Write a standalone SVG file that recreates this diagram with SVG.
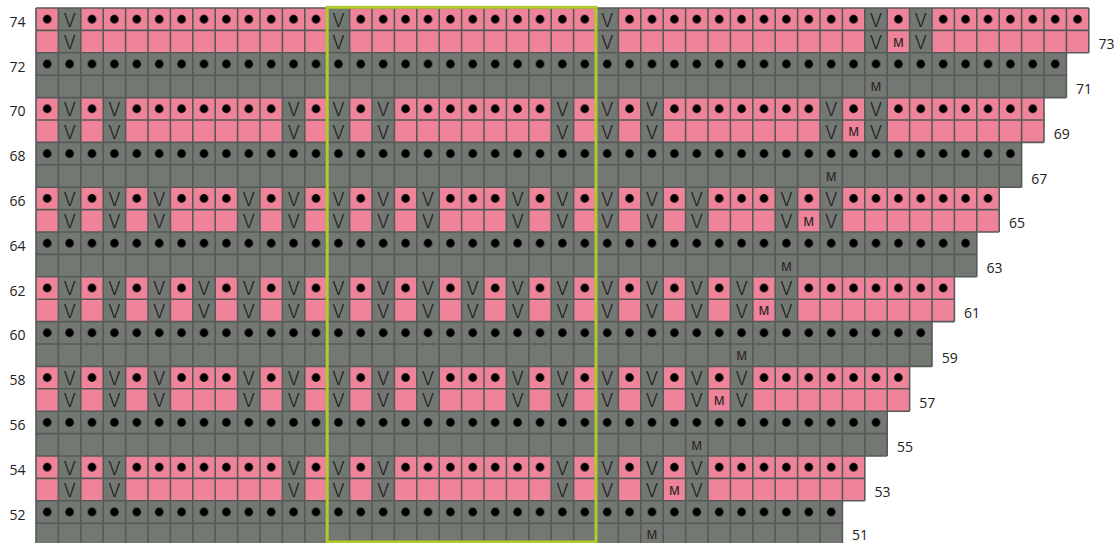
<svg xmlns="http://www.w3.org/2000/svg" width="1114" height="543" viewBox="0 0 1114 543">
<style>
.pk{fill:#ef8399}
.gy{fill:#747873}
.v{font-family:Inter,"Liberation Sans",sans-serif;font-weight:300;font-size:18.4px;text-anchor:middle;fill:#1e1e1e}
.m{font-family:"Open Sans","Liberation Sans",sans-serif;font-weight:600;font-size:11.8px;text-anchor:middle;fill:#302a2c}
.lbl{font-family:"Open Sans","Liberation Sans",sans-serif;font-size:14px;fill:#222}
.l{text-anchor:end}
.grid{fill:none;stroke:#575a58;stroke-width:1.6}
</style>
<defs>
<pattern id="dots" patternUnits="userSpaceOnUse" x="36" y="0" width="22.4" height="22.4"><circle cx="11.2" cy="11.2" r="4.3" fill="#000"/></pattern>
</defs>

<g id="rows-74-73" transform="translate(0,8)">
<rect class="pk" x="36" y="0" width="1052.8" height="44.8"/>
<rect fill="url(#dots)" x="36" y="0" width="1052.8" height="22.4"/>
<rect class="gy" x="58.4" y="0" width="22.4" height="44.8"/><rect class="gy" x="327.2" y="0" width="22.4" height="44.8"/><rect class="gy" x="596" y="0" width="22.4" height="44.8"/><rect class="gy" x="864.8" y="0" width="22.4" height="44.8"/><rect class="gy" x="909.6" y="0" width="22.4" height="44.8"/>
<text class="v" x="69.6" y="18.7">V</text><text class="v" x="338.4" y="18.7">V</text><text class="v" x="607.2" y="18.7">V</text><text class="v" x="876" y="18.7">V</text><text class="v" x="920.8" y="18.7">V</text>
<text class="v" x="69.6" y="41.1">V</text><text class="v" x="338.4" y="41.1">V</text><text class="v" x="607.2" y="41.1">V</text><text class="v" x="876" y="41.1">V</text><text class="v" x="920.8" y="41.1">V</text>
<text class="m" x="898.4" y="38.7">M</text>
</g>

<g id="rows-72-71" transform="translate(0,52.8)">
<rect class="gy" x="36" y="0" width="1030.4" height="44.8"/>
<rect fill="url(#dots)" x="36" y="0" width="1030.4" height="22.4"/>
<text class="m" x="876" y="38.7">M</text>
</g>

<g id="rows-70-69" transform="translate(0,97.6)">
<rect class="pk" x="36" y="0" width="1008" height="44.8"/>
<rect fill="url(#dots)" x="36" y="0" width="1008" height="22.4"/>
<rect class="gy" x="58.4" y="0" width="22.4" height="44.8"/><rect class="gy" x="103.2" y="0" width="22.4" height="44.8"/><rect class="gy" x="282.4" y="0" width="22.4" height="44.8"/><rect class="gy" x="327.2" y="0" width="22.4" height="44.8"/><rect class="gy" x="372" y="0" width="22.4" height="44.8"/><rect class="gy" x="551.2" y="0" width="22.4" height="44.8"/><rect class="gy" x="596" y="0" width="22.4" height="44.8"/><rect class="gy" x="640.8" y="0" width="22.4" height="44.8"/><rect class="gy" x="820" y="0" width="22.4" height="44.8"/><rect class="gy" x="864.8" y="0" width="22.4" height="44.8"/>
<text class="v" x="69.6" y="18.7">V</text><text class="v" x="114.4" y="18.7">V</text><text class="v" x="293.6" y="18.7">V</text><text class="v" x="338.4" y="18.7">V</text><text class="v" x="383.2" y="18.7">V</text><text class="v" x="562.4" y="18.7">V</text><text class="v" x="607.2" y="18.7">V</text><text class="v" x="652" y="18.7">V</text><text class="v" x="831.2" y="18.7">V</text><text class="v" x="876" y="18.7">V</text>
<text class="v" x="69.6" y="41.1">V</text><text class="v" x="114.4" y="41.1">V</text><text class="v" x="293.6" y="41.1">V</text><text class="v" x="338.4" y="41.1">V</text><text class="v" x="383.2" y="41.1">V</text><text class="v" x="562.4" y="41.1">V</text><text class="v" x="607.2" y="41.1">V</text><text class="v" x="652" y="41.1">V</text><text class="v" x="831.2" y="41.1">V</text><text class="v" x="876" y="41.1">V</text>
<text class="m" x="853.6" y="38.7">M</text>
</g>

<g id="rows-68-67" transform="translate(0,142.4)">
<rect class="gy" x="36" y="0" width="985.6" height="44.8"/>
<rect fill="url(#dots)" x="36" y="0" width="985.6" height="22.4"/>
<text class="m" x="831.2" y="38.7">M</text>
</g>

<g id="rows-66-65" transform="translate(0,187.2)">
<rect class="pk" x="36" y="0" width="963.2" height="44.8"/>
<rect fill="url(#dots)" x="36" y="0" width="963.2" height="22.4"/>
<rect class="gy" x="58.4" y="0" width="22.4" height="44.8"/><rect class="gy" x="103.2" y="0" width="22.4" height="44.8"/><rect class="gy" x="148" y="0" width="22.4" height="44.8"/><rect class="gy" x="237.6" y="0" width="22.4" height="44.8"/><rect class="gy" x="282.4" y="0" width="22.4" height="44.8"/><rect class="gy" x="327.2" y="0" width="22.4" height="44.8"/><rect class="gy" x="372" y="0" width="22.4" height="44.8"/><rect class="gy" x="416.8" y="0" width="22.4" height="44.8"/><rect class="gy" x="506.4" y="0" width="22.4" height="44.8"/><rect class="gy" x="551.2" y="0" width="22.4" height="44.8"/><rect class="gy" x="596" y="0" width="22.4" height="44.8"/><rect class="gy" x="640.8" y="0" width="22.4" height="44.8"/><rect class="gy" x="685.6" y="0" width="22.4" height="44.8"/><rect class="gy" x="775.2" y="0" width="22.4" height="44.8"/><rect class="gy" x="820" y="0" width="22.4" height="44.8"/>
<text class="v" x="69.6" y="18.7">V</text><text class="v" x="114.4" y="18.7">V</text><text class="v" x="159.2" y="18.7">V</text><text class="v" x="248.8" y="18.7">V</text><text class="v" x="293.6" y="18.7">V</text><text class="v" x="338.4" y="18.7">V</text><text class="v" x="383.2" y="18.7">V</text><text class="v" x="428" y="18.7">V</text><text class="v" x="517.6" y="18.7">V</text><text class="v" x="562.4" y="18.7">V</text><text class="v" x="607.2" y="18.7">V</text><text class="v" x="652" y="18.7">V</text><text class="v" x="696.8" y="18.7">V</text><text class="v" x="786.4" y="18.7">V</text><text class="v" x="831.2" y="18.7">V</text>
<text class="v" x="69.6" y="41.1">V</text><text class="v" x="114.4" y="41.1">V</text><text class="v" x="159.2" y="41.1">V</text><text class="v" x="248.8" y="41.1">V</text><text class="v" x="293.6" y="41.1">V</text><text class="v" x="338.4" y="41.1">V</text><text class="v" x="383.2" y="41.1">V</text><text class="v" x="428" y="41.1">V</text><text class="v" x="517.6" y="41.1">V</text><text class="v" x="562.4" y="41.1">V</text><text class="v" x="607.2" y="41.1">V</text><text class="v" x="652" y="41.1">V</text><text class="v" x="696.8" y="41.1">V</text><text class="v" x="786.4" y="41.1">V</text><text class="v" x="831.2" y="41.1">V</text>
<text class="m" x="808.8" y="38.7">M</text>
</g>

<g id="rows-64-63" transform="translate(0,232)">
<rect class="gy" x="36" y="0" width="940.8" height="44.8"/>
<rect fill="url(#dots)" x="36" y="0" width="940.8" height="22.4"/>
<text class="m" x="786.4" y="38.7">M</text>
</g>

<g id="rows-62-61" transform="translate(0,276.8)">
<rect class="pk" x="36" y="0" width="918.4" height="44.8"/>
<rect fill="url(#dots)" x="36" y="0" width="918.4" height="22.4"/>
<rect class="gy" x="58.4" y="0" width="22.4" height="44.8"/><rect class="gy" x="103.2" y="0" width="22.4" height="44.8"/><rect class="gy" x="148" y="0" width="22.4" height="44.8"/><rect class="gy" x="192.8" y="0" width="22.4" height="44.8"/><rect class="gy" x="237.6" y="0" width="22.4" height="44.8"/><rect class="gy" x="282.4" y="0" width="22.4" height="44.8"/><rect class="gy" x="327.2" y="0" width="22.4" height="44.8"/><rect class="gy" x="372" y="0" width="22.4" height="44.8"/><rect class="gy" x="416.8" y="0" width="22.4" height="44.8"/><rect class="gy" x="461.6" y="0" width="22.4" height="44.8"/><rect class="gy" x="506.4" y="0" width="22.4" height="44.8"/><rect class="gy" x="551.2" y="0" width="22.4" height="44.8"/><rect class="gy" x="596" y="0" width="22.4" height="44.8"/><rect class="gy" x="640.8" y="0" width="22.4" height="44.8"/><rect class="gy" x="685.6" y="0" width="22.4" height="44.8"/><rect class="gy" x="730.4" y="0" width="22.4" height="44.8"/><rect class="gy" x="775.2" y="0" width="22.4" height="44.8"/>
<text class="v" x="69.6" y="18.7">V</text><text class="v" x="114.4" y="18.7">V</text><text class="v" x="159.2" y="18.7">V</text><text class="v" x="204" y="18.7">V</text><text class="v" x="248.8" y="18.7">V</text><text class="v" x="293.6" y="18.7">V</text><text class="v" x="338.4" y="18.7">V</text><text class="v" x="383.2" y="18.7">V</text><text class="v" x="428" y="18.7">V</text><text class="v" x="472.8" y="18.7">V</text><text class="v" x="517.6" y="18.7">V</text><text class="v" x="562.4" y="18.7">V</text><text class="v" x="607.2" y="18.7">V</text><text class="v" x="652" y="18.7">V</text><text class="v" x="696.8" y="18.7">V</text><text class="v" x="741.6" y="18.7">V</text><text class="v" x="786.4" y="18.7">V</text>
<text class="v" x="69.6" y="41.1">V</text><text class="v" x="114.4" y="41.1">V</text><text class="v" x="159.2" y="41.1">V</text><text class="v" x="204" y="41.1">V</text><text class="v" x="248.8" y="41.1">V</text><text class="v" x="293.6" y="41.1">V</text><text class="v" x="338.4" y="41.1">V</text><text class="v" x="383.2" y="41.1">V</text><text class="v" x="428" y="41.1">V</text><text class="v" x="472.8" y="41.1">V</text><text class="v" x="517.6" y="41.1">V</text><text class="v" x="562.4" y="41.1">V</text><text class="v" x="607.2" y="41.1">V</text><text class="v" x="652" y="41.1">V</text><text class="v" x="696.8" y="41.1">V</text><text class="v" x="741.6" y="41.1">V</text><text class="v" x="786.4" y="41.1">V</text>
<text class="m" x="764" y="38.7">M</text>
</g>

<g id="rows-60-59" transform="translate(0,321.6)">
<rect class="gy" x="36" y="0" width="896" height="44.8"/>
<rect fill="url(#dots)" x="36" y="0" width="896" height="22.4"/>
<text class="m" x="741.6" y="38.7">M</text>
</g>

<g id="rows-58-57" transform="translate(0,366.4)">
<rect class="pk" x="36" y="0" width="873.6" height="44.8"/>
<rect fill="url(#dots)" x="36" y="0" width="873.6" height="22.4"/>
<rect class="gy" x="58.4" y="0" width="22.4" height="44.8"/><rect class="gy" x="103.2" y="0" width="22.4" height="44.8"/><rect class="gy" x="148" y="0" width="22.4" height="44.8"/><rect class="gy" x="237.6" y="0" width="22.4" height="44.8"/><rect class="gy" x="282.4" y="0" width="22.4" height="44.8"/><rect class="gy" x="327.2" y="0" width="22.4" height="44.8"/><rect class="gy" x="372" y="0" width="22.4" height="44.8"/><rect class="gy" x="416.8" y="0" width="22.4" height="44.8"/><rect class="gy" x="506.4" y="0" width="22.4" height="44.8"/><rect class="gy" x="551.2" y="0" width="22.4" height="44.8"/><rect class="gy" x="596" y="0" width="22.4" height="44.8"/><rect class="gy" x="640.8" y="0" width="22.4" height="44.8"/><rect class="gy" x="685.6" y="0" width="22.4" height="44.8"/><rect class="gy" x="730.4" y="0" width="22.4" height="44.8"/>
<text class="v" x="69.6" y="18.7">V</text><text class="v" x="114.4" y="18.7">V</text><text class="v" x="159.2" y="18.7">V</text><text class="v" x="248.8" y="18.7">V</text><text class="v" x="293.6" y="18.7">V</text><text class="v" x="338.4" y="18.7">V</text><text class="v" x="383.2" y="18.7">V</text><text class="v" x="428" y="18.7">V</text><text class="v" x="517.6" y="18.7">V</text><text class="v" x="562.4" y="18.7">V</text><text class="v" x="607.2" y="18.7">V</text><text class="v" x="652" y="18.7">V</text><text class="v" x="696.8" y="18.7">V</text><text class="v" x="741.6" y="18.7">V</text>
<text class="v" x="69.6" y="41.1">V</text><text class="v" x="114.4" y="41.1">V</text><text class="v" x="159.2" y="41.1">V</text><text class="v" x="248.8" y="41.1">V</text><text class="v" x="293.6" y="41.1">V</text><text class="v" x="338.4" y="41.1">V</text><text class="v" x="383.2" y="41.1">V</text><text class="v" x="428" y="41.1">V</text><text class="v" x="517.6" y="41.1">V</text><text class="v" x="562.4" y="41.1">V</text><text class="v" x="607.2" y="41.1">V</text><text class="v" x="652" y="41.1">V</text><text class="v" x="696.8" y="41.1">V</text><text class="v" x="741.6" y="41.1">V</text>
<text class="m" x="719.2" y="38.7">M</text>
</g>

<g id="rows-56-55" transform="translate(0,411.2)">
<rect class="gy" x="36" y="0" width="851.2" height="44.8"/>
<rect fill="url(#dots)" x="36" y="0" width="851.2" height="22.4"/>
<text class="m" x="696.8" y="38.7">M</text>
</g>

<g id="rows-54-53" transform="translate(0,456)">
<rect class="pk" x="36" y="0" width="828.8" height="44.8"/>
<rect fill="url(#dots)" x="36" y="0" width="828.8" height="22.4"/>
<rect class="gy" x="58.4" y="0" width="22.4" height="44.8"/><rect class="gy" x="103.2" y="0" width="22.4" height="44.8"/><rect class="gy" x="282.4" y="0" width="22.4" height="44.8"/><rect class="gy" x="327.2" y="0" width="22.4" height="44.8"/><rect class="gy" x="372" y="0" width="22.4" height="44.8"/><rect class="gy" x="551.2" y="0" width="22.4" height="44.8"/><rect class="gy" x="596" y="0" width="22.4" height="44.8"/><rect class="gy" x="640.8" y="0" width="22.4" height="44.8"/><rect class="gy" x="685.6" y="0" width="22.4" height="44.8"/>
<text class="v" x="69.6" y="18.7">V</text><text class="v" x="114.4" y="18.7">V</text><text class="v" x="293.6" y="18.7">V</text><text class="v" x="338.4" y="18.7">V</text><text class="v" x="383.2" y="18.7">V</text><text class="v" x="562.4" y="18.7">V</text><text class="v" x="607.2" y="18.7">V</text><text class="v" x="652" y="18.7">V</text><text class="v" x="696.8" y="18.7">V</text>
<text class="v" x="69.6" y="41.1">V</text><text class="v" x="114.4" y="41.1">V</text><text class="v" x="293.6" y="41.1">V</text><text class="v" x="338.4" y="41.1">V</text><text class="v" x="383.2" y="41.1">V</text><text class="v" x="562.4" y="41.1">V</text><text class="v" x="607.2" y="41.1">V</text><text class="v" x="652" y="41.1">V</text><text class="v" x="696.8" y="41.1">V</text>
<text class="m" x="674.4" y="38.7">M</text>
</g>

<g id="rows-52-51" transform="translate(0,500.8)">
<rect class="gy" x="36" y="0" width="806.4" height="44.8"/>
<rect fill="url(#dots)" x="36" y="0" width="806.4" height="22.4"/>
<text class="m" x="652" y="38.7">M</text>
</g>

<g id="gridlines">
<path class="grid" d="M36 8H1088.8M36 30.4H1088.8M36 52.8H1088.8M36 75.2H1066.4M36 97.6H1066.4M36 120H1044M36 142.4H1044M36 164.8H1021.6M36 187.2H1021.6M36 209.6H999.2M36 232H999.2M36 254.4H976.8M36 276.8H976.8M36 299.2H954.4M36 321.6H954.4M36 344H932M36 366.4H932M36 388.8H909.6M36 411.2H909.6M36 433.6H887.2M36 456H887.2M36 478.4H864.8M36 500.8H864.8M36 523.2H842.4
M36 8V546M58.4 8V546M80.8 8V546M103.2 8V546M125.6 8V546M148 8V546M170.4 8V546M192.8 8V546M215.2 8V546M237.6 8V546M260 8V546M282.4 8V546M304.8 8V546M327.2 8V546M349.6 8V546M372 8V546M394.4 8V546M416.8 8V546M439.2 8V546M461.6 8V546M484 8V546M506.4 8V546M528.8 8V546M551.2 8V546M573.6 8V546M596 8V546M618.4 8V546M640.8 8V546M663.2 8V546M685.6 8V546M708 8V546M730.4 8V546M752.8 8V546M775.2 8V546M797.6 8V546M820 8V546M842.4 8V546
M864.8 8V500.8M887.2 8V456M909.6 8V411.2M932 8V366.4M954.4 8V321.6M976.8 8V276.8M999.2 8V232M1021.6 8V187.2M1044 8V142.4M1066.4 8V97.6M1088.8 8V52.8"/>
</g>

<g id="repeat-box">
<rect x="327.2" y="7.3" width="268.8" height="534.7" fill="none" stroke="#b1cb2c" stroke-width="3"/>
</g>

<g id="row-labels">
<text class="lbl l" x="25.5" y="26.8">74</text>
<text class="lbl l" x="25.5" y="71.6">72</text>
<text class="lbl l" x="25.5" y="116.4">70</text>
<text class="lbl l" x="25.5" y="161.2">68</text>
<text class="lbl l" x="25.5" y="206">66</text>
<text class="lbl l" x="25.5" y="250.8">64</text>
<text class="lbl l" x="25.5" y="295.6">62</text>
<text class="lbl l" x="25.5" y="340.4">60</text>
<text class="lbl l" x="25.5" y="385.2">58</text>
<text class="lbl l" x="25.5" y="430">56</text>
<text class="lbl l" x="25.5" y="474.8">54</text>
<text class="lbl l" x="25.5" y="519.6">52</text>
<text class="lbl" x="1098.5" y="49.2">73</text>
<text class="lbl" x="1076.1" y="94">71</text>
<text class="lbl" x="1053.7" y="138.8">69</text>
<text class="lbl" x="1031.3" y="183.6">67</text>
<text class="lbl" x="1008.9" y="228.4">65</text>
<text class="lbl" x="986.5" y="273.2">63</text>
<text class="lbl" x="964.1" y="318">61</text>
<text class="lbl" x="941.7" y="362.8">59</text>
<text class="lbl" x="919.3" y="407.6">57</text>
<text class="lbl" x="896.9" y="452.4">55</text>
<text class="lbl" x="874.5" y="497.2">53</text>
<text class="lbl" x="852.1" y="540">51</text>
</g>
</svg>
